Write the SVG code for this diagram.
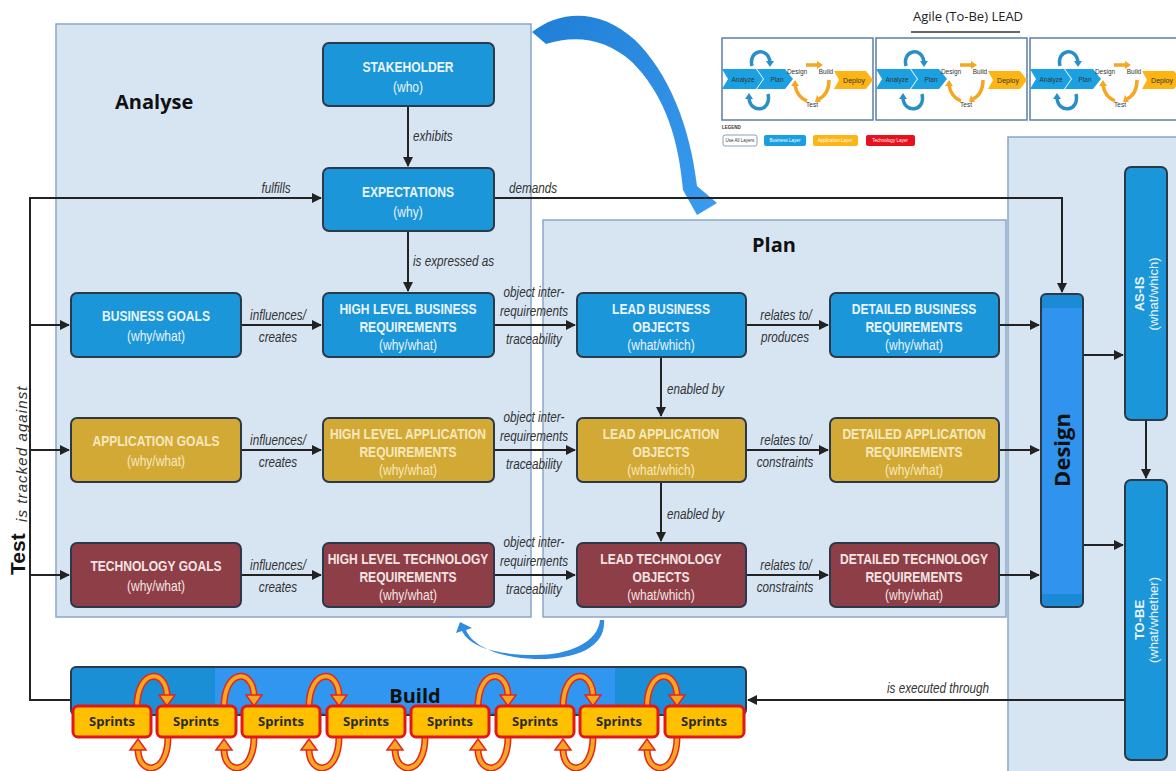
<svg xmlns="http://www.w3.org/2000/svg" xmlns:xlink="http://www.w3.org/1999/xlink" width="1176" height="771" viewBox="0 0 1176 771">
  <style>
    .panel { fill: #d7e5f3; stroke: #8aa6c6; stroke-width: 1.5; }
    .node { stroke: #2b3a4a; stroke-width: 2; }
    .biz { fill: #1b96d8; }
    .app { fill: #d3a935; }
    .tech { fill: #8e3e46; }
    .ttl { font-family: "Liberation Sans", Arial, sans-serif; font-weight: bold; font-size: 15.5px; text-anchor: middle; }
    .sub { font-family: "Liberation Sans", Arial, sans-serif; font-size: 14.5px; text-anchor: middle; }
    .wt { fill: #eaf4fc; }
    .yt { fill: #f6e8bd; }
    .rt { fill: #f4e4e4; }
    .lbl { font-family: "Liberation Sans", Arial, sans-serif; font-style: italic; font-size: 15px; fill: #333; }
    .mid { text-anchor: middle; }
    .conn { fill: none; stroke: #222; stroke-width: 2; }
    .hdr { font-family: "Open Sans", "Liberation Sans", sans-serif; font-weight: bold; fill: #111; }
    .spr { fill: #ffc000; stroke: #e3161b; stroke-width: 3; }
    .sprt { font-family: "Open Sans", "Liberation Sans", sans-serif; font-weight: bold; font-size: 13px; fill: #2a2a2a; text-anchor: middle; }
    .mini { font-family: "Liberation Sans", sans-serif; font-size: 6.5px; fill: #333; text-anchor: middle; }
    .leg { font-family: "Liberation Sans", sans-serif; font-size: 4.5px; text-anchor: middle; }
  </style>
  <defs>
    <marker id="ah" viewBox="0 0 10 10" refX="9" refY="5" markerWidth="5" markerHeight="5" orient="auto-start-reverse">
      <path d="M0,0 L10,5 L0,10 z" fill="#222"/>
    </marker>
    <linearGradient id="bigArrow" x1="0" y1="0" x2="1" y2="1">
      <stop offset="0" stop-color="#1f7fd6"/>
      <stop offset="1" stop-color="#3a9cf0"/>
    </linearGradient>
    <!-- orange loop arrow above the sprint row -->
    <g id="loopUp">
      <path d="M-15,707 C-15,668 15,668 15,697" fill="none" stroke="#e3261b" stroke-width="7"/>
      <path d="M-15,707 C-15,668 15,668 15,697" fill="none" stroke="#f6a623" stroke-width="4"/>
      <polygon points="7,695 23,695 15,706" fill="#f6a623" stroke="#e3261b" stroke-width="1.5"/>
    </g>
    <!-- orange loop arrow below the sprint row -->
    <g id="loopDown">
      <path d="M15,737 C15,776 -15,776 -15,749" fill="none" stroke="#e3261b" stroke-width="7"/>
      <path d="M15,737 C15,776 -15,776 -15,749" fill="none" stroke="#f6a623" stroke-width="4"/>
      <polygon points="-23,750 -7,750 -15,739" fill="#f6a623" stroke="#e3261b" stroke-width="1.5"/>
    </g>
    <!-- small agile cycle thumbnail -->
    <g id="cycle">
      <rect x="0" y="0" width="151" height="82" fill="#fff" stroke="#5b7fa6" stroke-width="1.5"/>
      <polygon points="0,31 34,31 41,41 34,51 0,51 6,41" fill="#1ba1e2"/>
      <polygon points="35,31 63,31 71,41 63,51 35,51 42,41" fill="#1ba1e2"/>
      <text x="21" y="43.5" class="mini">Analyze</text>
      <text x="55" y="43.5" class="mini">Plan</text>
      <path d="M30,28 C26,12 46,8 48,24" fill="none" stroke="#2a8fc6" stroke-width="3.5"/>
      <polygon points="44,23 52,23 48,29" fill="#2a8fc6"/>
      <path d="M46,56 C50,74 28,76 27,60" fill="none" stroke="#2a8fc6" stroke-width="3.5"/>
      <polygon points="23,61 31,61 27,55" fill="#2a8fc6"/>
      <text x="75" y="36" class="mini">Design</text>
      <text x="104" y="36" class="mini">Build</text>
      <text x="90" y="69" class="mini">Test</text>
      <path d="M84,27 L96,27" stroke="#f5a623" stroke-width="3.5" fill="none"/>
      <polygon points="95,23 101,27 95,31" fill="#f5a623"/>
      <path d="M107,42 C107,52 103,58 97,61" stroke="#f5a623" stroke-width="3.5" fill="none"/>
      <polygon points="95,57 99,64 93,64" fill="#f5a623"/>
      <path d="M85,63 C78,60 74,54 73,47" stroke="#f5a623" stroke-width="3.5" fill="none"/>
      <polygon points="69,48 77,48 73,42" fill="#f5a623"/>
      <polygon points="112,33 144,33 151,42 144,51 112,51 117,42" fill="#fdb516"/>
      <text x="132" y="44.5" class="mini" style="font-size:7px">Deploy</text>
    </g>
  </defs>

  <rect width="1176" height="771" fill="#fff"/>

  <!-- swimlane panels -->
  <g id="panels">
    <rect id="analyse-panel" class="panel" x="56" y="24" width="475" height="593"/>
    <rect id="plan-panel" class="panel" x="543" y="220" width="463" height="397"/>
    <rect id="design-panel" class="panel" x="1008" y="137" width="175" height="640"/>
    <text class="hdr" x="115" y="109" font-size="20">Analyse</text>
    <text class="hdr" x="774" y="252" font-size="20" text-anchor="middle">Plan</text>
  </g>

  <!-- agile cycle thumbnails and legend -->
  <g id="agile-lead">
    <text x="968" y="21" font-family="Open Sans, Liberation Sans, sans-serif" font-size="13" fill="#222" text-anchor="middle">Agile (To-Be) LEAD</text>
    <line x1="911" y1="32" x2="1020" y2="32" stroke="#333" stroke-width="1.5"/>
    <use xlink:href="#cycle" x="722" y="38"/>
    <use xlink:href="#cycle" x="876" y="38"/>
    <use xlink:href="#cycle" x="1030" y="38"/>
    <text x="722" y="129" font-family="Liberation Sans, sans-serif" font-size="4.5" font-weight="bold" fill="#333">LEGEND</text>
    <rect x="723" y="135" width="34" height="11" rx="2" fill="#fff" stroke="#8aa0b8"/>
    <text x="740" y="142" class="leg" fill="#333">Use All Layers</text>
    <rect x="764" y="135" width="42" height="11" rx="2" fill="#1aa0e0"/>
    <text x="785" y="142" class="leg" fill="#fff">Business Layer</text>
    <rect x="813" y="135" width="45" height="11" rx="2" fill="#fdb516"/>
    <text x="835" y="142" class="leg" fill="#fff">Application Layer</text>
    <rect x="866" y="135" width="49" height="11" rx="2" fill="#e8101c"/>
    <text x="890" y="142" class="leg" fill="#fff">Technology Layer</text>
  </g>

  <!-- transition arrows between Analyse and Plan -->
  <g id="transitions">
    <path d="M532,32 C560,10 600,8 635,40 C668,72 690,125 697,186 L717,203 L697,215 L683,190 C678,130 660,90 632,62 C605,38 575,35 546,44 Z" fill="url(#bigArrow)"/>
    <path d="M604,620 C606,648 575,660 535,659 C500,658 472,646 466,630 L472,628 L460,622 L456,633 L462,631 C470,648 500,655 535,655 C570,655 598,642 600,620 Z" fill="#2f8ce0"/>
  </g>

  <!-- connectors -->
  <g id="connectors">
    <!-- test feedback loop -->
    <path class="conn" d="M71,700 L30,700 L30,198 L321,198" marker-end="url(#ah)"/>
    <path class="conn" d="M30,325 L69,325" marker-end="url(#ah)"/>
    <path class="conn" d="M30,450 L69,450" marker-end="url(#ah)"/>
    <path class="conn" d="M30,575 L69,575" marker-end="url(#ah)"/>
    <!-- stakeholder chain -->
    <path class="conn" d="M408,106 L408,166" marker-end="url(#ah)"/>
    <path class="conn" d="M408,231 L408,291" marker-end="url(#ah)"/>
    <path class="conn" d="M494,198 L1062,198 L1062,292" marker-end="url(#ah)"/>
    <!-- rows -->
    <path class="conn" d="M241,325 L321,325" marker-end="url(#ah)"/>
    <path class="conn" d="M241,450 L321,450" marker-end="url(#ah)"/>
    <path class="conn" d="M241,575 L321,575" marker-end="url(#ah)"/>
    <path class="conn" d="M494,325 L575,325" marker-end="url(#ah)"/>
    <path class="conn" d="M494,450 L575,450" marker-end="url(#ah)"/>
    <path class="conn" d="M494,575 L575,575" marker-end="url(#ah)"/>
    <path class="conn" d="M746,325 L828,325" marker-end="url(#ah)"/>
    <path class="conn" d="M746,450 L828,450" marker-end="url(#ah)"/>
    <path class="conn" d="M746,575 L828,575" marker-end="url(#ah)"/>
    <path class="conn" d="M661,357 L661,416" marker-end="url(#ah)"/>
    <path class="conn" d="M661,482 L661,541" marker-end="url(#ah)"/>
    <path class="conn" d="M999,325 L1039,325" marker-end="url(#ah)"/>
    <path class="conn" d="M999,450 L1039,450" marker-end="url(#ah)"/>
    <path class="conn" d="M999,575 L1039,575" marker-end="url(#ah)"/>
    <!-- design outputs -->
    <path class="conn" d="M1083,355 L1123,355" marker-end="url(#ah)"/>
    <path class="conn" d="M1083,545 L1123,545" marker-end="url(#ah)"/>
    <path class="conn" d="M1146,420 L1146,478" marker-end="url(#ah)"/>
    <path class="conn" d="M1125,700 L748,700" marker-end="url(#ah)"/>

    <!-- connector labels (condensed italic) -->
    <g class="lbl">
      <text transform="translate(413,141) scale(0.78,1)">exhibits</text>
      <text transform="translate(413,266) scale(0.78,1)">is expressed as</text>
      <text transform="translate(667,394) scale(0.78,1)">enabled by</text>
      <text transform="translate(667,519) scale(0.78,1)">enabled by</text>
    </g>
    <g class="lbl mid">
      <text transform="translate(276,193) scale(0.78,1)">fulfills</text>
      <text transform="translate(533,193) scale(0.78,1)">demands</text>
      <text transform="translate(278,320) scale(0.78,1)">influences/</text><text transform="translate(278,342) scale(0.78,1)">creates</text>
      <text transform="translate(278,445) scale(0.78,1)">influences/</text><text transform="translate(278,467) scale(0.78,1)">creates</text>
      <text transform="translate(278,570) scale(0.78,1)">influences/</text><text transform="translate(278,592) scale(0.78,1)">creates</text>
      <text transform="translate(534,297) scale(0.78,1)">object inter-</text><text transform="translate(534,316) scale(0.78,1)">requirements</text><text transform="translate(534,344) scale(0.78,1)">traceability</text>
      <text transform="translate(534,422) scale(0.78,1)">object inter-</text><text transform="translate(534,441) scale(0.78,1)">requirements</text><text transform="translate(534,469) scale(0.78,1)">traceability</text>
      <text transform="translate(534,547) scale(0.78,1)">object inter-</text><text transform="translate(534,566) scale(0.78,1)">requirements</text><text transform="translate(534,594) scale(0.78,1)">traceability</text>
      <text transform="translate(786,320) scale(0.78,1)">relates to/</text><text transform="translate(785,342) scale(0.78,1)">produces</text>
      <text transform="translate(786,445) scale(0.78,1)">relates to/</text><text transform="translate(785,467) scale(0.78,1)">constraints</text>
      <text transform="translate(786,570) scale(0.78,1)">relates to/</text><text transform="translate(785,592) scale(0.78,1)">constraints</text>
      <text transform="translate(938,693) scale(0.78,1)">is executed through</text>
    </g>
  </g>

  <!-- test label -->
  <g id="test">
    <text transform="translate(25,575) rotate(-90)" font-family="Liberation Sans, sans-serif" font-weight="bold" font-size="21" fill="#111">Test</text>
    <text transform="translate(27,522) rotate(-90)" font-family="Liberation Sans, sans-serif" font-style="italic" font-size="15" letter-spacing="1.1" fill="#333">is tracked against</text>
  </g>

  <!-- analyse nodes -->
  <g id="stakeholder">
    <rect class="node biz" x="323" y="43" width="171" height="63" rx="6"/>
    <text class="ttl wt" transform="translate(408,72) scale(0.78,1)">STAKEHOLDER</text>
    <text class="sub wt" transform="translate(408,92) scale(0.83,1)">(who)</text>
  </g>
  <g id="expectations">
    <rect class="node biz" x="323" y="168" width="171" height="63" rx="6"/>
    <text class="ttl wt" transform="translate(408,197) scale(0.78,1)">EXPECTATIONS</text>
    <text class="sub wt" transform="translate(408,217) scale(0.83,1)">(why)</text>
  </g>
  <g id="business-goals">
    <rect class="node biz" x="71" y="293" width="170" height="64" rx="6"/>
    <text class="ttl wt" transform="translate(156,321) scale(0.78,1)">BUSINESS GOALS</text>
    <text class="sub wt" transform="translate(156,341) scale(0.83,1)">(why/what)</text>
  </g>
  <g id="application-goals">
    <rect class="node app" x="71" y="418" width="170" height="64" rx="6"/>
    <text class="ttl yt" transform="translate(156,446) scale(0.78,1)">APPLICATION GOALS</text>
    <text class="sub yt" transform="translate(156,466) scale(0.83,1)">(why/what)</text>
  </g>
  <g id="technology-goals">
    <rect class="node tech" x="71" y="543" width="170" height="64" rx="6"/>
    <text class="ttl rt" transform="translate(156,571) scale(0.78,1)">TECHNOLOGY GOALS</text>
    <text class="sub rt" transform="translate(156,591) scale(0.83,1)">(why/what)</text>
  </g>
  <g id="hl-business">
    <rect class="node biz" x="323" y="293" width="171" height="64" rx="6"/>
    <text class="ttl wt" transform="translate(408,314) scale(0.78,1)">HIGH LEVEL BUSINESS</text>
    <text class="ttl wt" transform="translate(408,332) scale(0.78,1)">REQUIREMENTS</text>
    <text class="sub wt" transform="translate(408,350) scale(0.83,1)">(why/what)</text>
  </g>
  <g id="hl-application">
    <rect class="node app" x="323" y="418" width="171" height="64" rx="6"/>
    <text class="ttl yt" transform="translate(408,439) scale(0.78,1)">HIGH LEVEL APPLICATION</text>
    <text class="ttl yt" transform="translate(408,457) scale(0.78,1)">REQUIREMENTS</text>
    <text class="sub yt" transform="translate(408,475) scale(0.83,1)">(why/what)</text>
  </g>
  <g id="hl-technology">
    <rect class="node tech" x="323" y="543" width="171" height="64" rx="6"/>
    <text class="ttl rt" transform="translate(408,564) scale(0.78,1)">HIGH LEVEL TECHNOLOGY</text>
    <text class="ttl rt" transform="translate(408,582) scale(0.78,1)">REQUIREMENTS</text>
    <text class="sub rt" transform="translate(408,600) scale(0.83,1)">(why/what)</text>
  </g>

  <!-- plan nodes -->
  <g id="lead-business">
    <rect class="node biz" x="577" y="293" width="169" height="64" rx="6"/>
    <text class="ttl wt" transform="translate(661,314) scale(0.78,1)">LEAD BUSINESS</text>
    <text class="ttl wt" transform="translate(661,332) scale(0.78,1)">OBJECTS</text>
    <text class="sub wt" transform="translate(661,350) scale(0.83,1)">(what/which)</text>
  </g>
  <g id="lead-application">
    <rect class="node app" x="577" y="418" width="169" height="64" rx="6"/>
    <text class="ttl yt" transform="translate(661,439) scale(0.78,1)">LEAD APPLICATION</text>
    <text class="ttl yt" transform="translate(661,457) scale(0.78,1)">OBJECTS</text>
    <text class="sub yt" transform="translate(661,475) scale(0.83,1)">(what/which)</text>
  </g>
  <g id="lead-technology">
    <rect class="node tech" x="577" y="543" width="169" height="64" rx="6"/>
    <text class="ttl rt" transform="translate(661,564) scale(0.78,1)">LEAD TECHNOLOGY</text>
    <text class="ttl rt" transform="translate(661,582) scale(0.78,1)">OBJECTS</text>
    <text class="sub rt" transform="translate(661,600) scale(0.83,1)">(what/which)</text>
  </g>
  <g id="detailed-business">
    <rect class="node biz" x="830" y="293" width="169" height="64" rx="6"/>
    <text class="ttl wt" transform="translate(914,314) scale(0.78,1)">DETAILED BUSINESS</text>
    <text class="ttl wt" transform="translate(914,332) scale(0.78,1)">REQUIREMENTS</text>
    <text class="sub wt" transform="translate(914,350) scale(0.83,1)">(why/what)</text>
  </g>
  <g id="detailed-application">
    <rect class="node app" x="830" y="418" width="169" height="64" rx="6"/>
    <text class="ttl yt" transform="translate(914,439) scale(0.78,1)">DETAILED APPLICATION</text>
    <text class="ttl yt" transform="translate(914,457) scale(0.78,1)">REQUIREMENTS</text>
    <text class="sub yt" transform="translate(914,475) scale(0.83,1)">(why/what)</text>
  </g>
  <g id="detailed-technology">
    <rect class="node tech" x="830" y="543" width="169" height="64" rx="6"/>
    <text class="ttl rt" transform="translate(914,564) scale(0.78,1)">DETAILED TECHNOLOGY</text>
    <text class="ttl rt" transform="translate(914,582) scale(0.78,1)">REQUIREMENTS</text>
    <text class="sub rt" transform="translate(914,600) scale(0.83,1)">(why/what)</text>
  </g>

  <!-- design column -->
  <g id="design">
    <rect x="1041" y="294" width="42" height="313" rx="5" fill="#1b8bd6" stroke="#2b3a4a" stroke-width="2"/>
    <rect x="1042" y="308" width="40" height="286" fill="#3093ee"/>
    <text transform="translate(1070,450) rotate(-90)" class="hdr" font-size="22" fill="#16304e" text-anchor="middle">Design</text>
  </g>
  <g id="as-is">
    <rect class="node biz" x="1125" y="167" width="42" height="253" rx="6"/>
    <text transform="translate(1146,294) rotate(-90)" font-family="Liberation Sans, sans-serif" font-size="13" fill="#eaf4fc" text-anchor="middle"><tspan font-weight="bold" x="0" dy="-2">AS-IS</tspan><tspan x="0" dy="14">(what/which)</tspan></text>
  </g>
  <g id="to-be">
    <rect class="node biz" x="1125" y="480" width="42" height="280" rx="6"/>
    <text transform="translate(1146,620) rotate(-90)" font-family="Liberation Sans, sans-serif" font-size="13" fill="#eaf4fc" text-anchor="middle"><tspan font-weight="bold" x="0" dy="-2">TO-BE</tspan><tspan x="0" dy="14">(what/whether)</tspan></text>
  </g>

  <!-- build bar with sprints -->
  <g id="build">
    <rect x="71" y="667" width="675" height="48" rx="5" fill="#1a8fd6" stroke="#2b3a4a" stroke-width="2"/>
    <rect x="215" y="668" width="400" height="44" fill="#3096f0"/>
    <text class="hdr" x="415" y="703" font-size="20" fill="#0c1e3a" text-anchor="middle">Build</text>
    <use xlink:href="#loopUp" x="152"/>
    <use xlink:href="#loopUp" x="239"/>
    <use xlink:href="#loopUp" x="324"/>
    <use xlink:href="#loopUp" x="493"/>
    <use xlink:href="#loopUp" x="578"/>
    <use xlink:href="#loopUp" x="662"/>
    <use xlink:href="#loopDown" x="153"/>
    <use xlink:href="#loopDown" x="239"/>
    <use xlink:href="#loopDown" x="324"/>
    <use xlink:href="#loopDown" x="410"/>
    <use xlink:href="#loopDown" x="493"/>
    <use xlink:href="#loopDown" x="578"/>
    <use xlink:href="#loopDown" x="662"/>
  </g>
  <g id="sprints">
    <rect class="spr" x="73" y="706" width="78" height="31" rx="5"/><text class="sprt" x="112" y="726">Sprints</text>
    <rect class="spr" x="157" y="706" width="79" height="31" rx="5"/><text class="sprt" x="196" y="726">Sprints</text>
    <rect class="spr" x="242" y="706" width="78" height="31" rx="5"/><text class="sprt" x="281" y="726">Sprints</text>
    <rect class="spr" x="327" y="706" width="78" height="31" rx="5"/><text class="sprt" x="366" y="726">Sprints</text>
    <rect class="spr" x="411" y="706" width="78" height="31" rx="5"/><text class="sprt" x="450" y="726">Sprints</text>
    <rect class="spr" x="496" y="706" width="78" height="31" rx="5"/><text class="sprt" x="535" y="726">Sprints</text>
    <rect class="spr" x="580" y="706" width="78" height="31" rx="5"/><text class="sprt" x="619" y="726">Sprints</text>
    <rect class="spr" x="665" y="706" width="79" height="31" rx="5"/><text class="sprt" x="704" y="726">Sprints</text>
  </g>
</svg>
